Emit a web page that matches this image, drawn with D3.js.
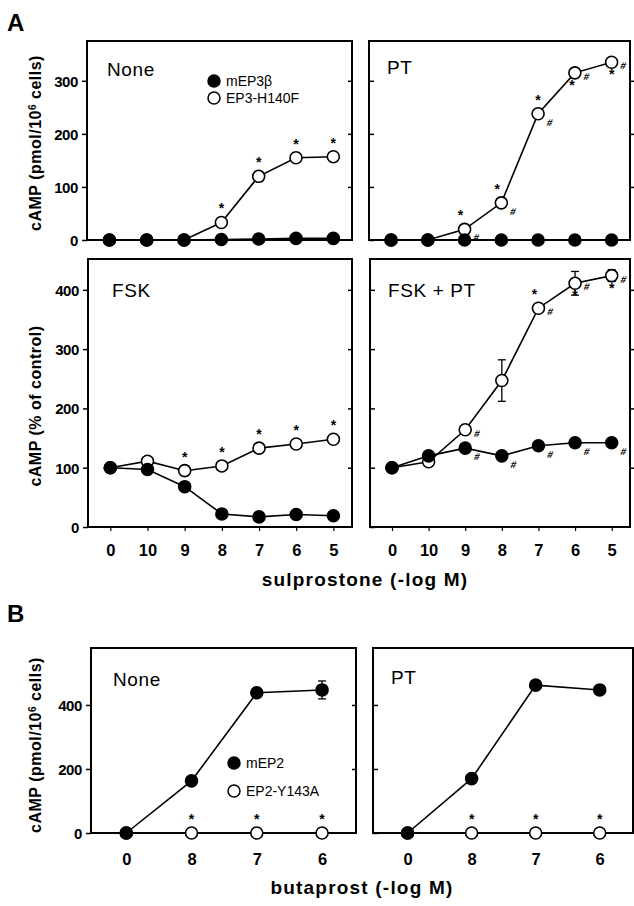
<!DOCTYPE html>
<html><head><meta charset="utf-8">
<script src="https://cdn.jsdelivr.net/npm/d3@7"></script>
<style>
html,body{margin:0;padding:0;background:#fff;}
svg{display:block;font-family:"Liberation Sans",Arial,sans-serif;}
</style></head>
<body>
<svg id="c" width="634" height="906"></svg>
<script>
// ---------- data ----------
const sulproTicks = ["0","10","9","8","7","6","5"];
const butaTicks = ["0","8","7","6"];
const yTicksA1 = [0,100,200,300];
const yTicksA2 = [0,100,200,300,400];
const yTicksB = [0,200,400];

// Panel A, cAMP (pmol/10^6 cells)
const noneEP3b   = [0,0,0,1,2,3,3];
const noneH140F  = [0,0,0,33,120,155,157];
const ptEP3b     = [0,0,0,0,0,0,0];
const ptH140F    = [0,0,20,70,238,315,335];
// Panel A, cAMP (% of control)
const fskEP3b    = [100,97,68,22,17,21,19];
const fskH140F   = [100,111,95,103,133,140,148];
const fskptEP3b  = [100,120,133,120,137,142,142];
const fskptH140F = [100,110,164,247,369,411,424];
const fskptH140FErr = [0,0,0,35,0,20,10];
// Panel B, cAMP (pmol/10^6 cells)
const bNoneEP2    = [0,163,438,447];
const bNoneEP2Err = [0,0,0,28];
const bNoneY143A  = [0,0,0,0];
const bPtEP2      = [0,170,462,447];
const bPtY143A    = [0,0,0,0];

// significance marks: a = * above, b = * below, l = * above-left, m = * below-left, h = # right-below, r = # right
const noneH140FMarks  = ["","","","a","a","a","a"];
const ptH140FMarks    = ["","","lh","lh","ah","mr","br"];
const fskH140FMarks   = ["","","a","a","a","a","a"];
const fskptH140FMarks = ["","","r","","lr","br","br"];
const fskptEP3bMarks  = ["","","h","h","h","h","h"];
const bY143AMarks     = ["","a","a","a"];

// ---------- drawing ----------
const svg = d3.select("#c");
const font = '"Liberation Sans",Arial,sans-serif';

function panel(cfg){
  const x = d3.scaleLinear().domain(cfg.xDom).range([cfg.x0,cfg.x1]);
  const y = d3.scaleLinear().domain([0,cfg.yMax]).range([cfg.y1,cfg.y0]);
  const g = svg.append("g");
  const leftAxis = d3.axisLeft(y).tickValues(cfg.yTicks).tickSize(cfg.leftIn ? -5 : 5).tickFormat(cfg.yLabels ? d3.format("d") : "");
  const la = g.append("g").attr("transform",`translate(${cfg.x0},0)`).call(leftAxis);
  la.select(".domain").remove();
  la.selectAll("line").attr("stroke","#000").attr("stroke-width",1.5);
  la.selectAll("text").attr("font-family",font).attr("font-weight","bold").attr("font-size",15)
    .attr("letter-spacing",-0.4).attr("fill","#000").attr("x",-9).attr("dy","0.36em");
  const rightAxis = d3.axisRight(y).tickValues(cfg.yTicks.filter(v=>v>0)).tickSize(cfg.rightOut?4:-4).tickFormat("");
  const ra = g.append("g").attr("transform",`translate(${cfg.x1},0)`).call(rightAxis);
  ra.select(".domain").remove();
  ra.selectAll("line").attr("stroke","#000").attr("stroke-width",1.5);
  if (cfg.xLabels){
    const xa = d3.axisBottom(x).tickValues(d3.range(cfg.xLabels.length)).tickSize(4).tickFormat((d,i)=>cfg.xLabels[i]);
    const xg = g.append("g").attr("transform",`translate(0,${cfg.y1})`).call(xa);
    xg.select(".domain").remove();
    xg.selectAll("line").attr("stroke","#000").attr("stroke-width",1.2);
    xg.selectAll("text").attr("font-family",font).attr("font-weight","bold").attr("font-size",16.5)
      .attr("fill","#000").attr("dy",null).attr("y",cfg.xLabelDy);
  }
  g.append("rect").attr("x",cfg.x0).attr("y",cfg.y0).attr("width",cfg.x1-cfg.x0).attr("height",cfg.y1-cfg.y0)
    .attr("fill","none").attr("stroke","#000").attr("stroke-width",2);
  g.append("text").attr("x",cfg.x0+cfg.titleDx).attr("y",cfg.y0+cfg.titleDy).text(cfg.title)
    .attr("font-family",font).attr("font-size",19).attr("letter-spacing",0.6).attr("fill","#000");

  const line = d3.line().x((d,i)=>x(i)).y(d=>y(d));
  cfg.series.forEach(s=>{
    g.append("path").attr("d",line(s.values)).attr("fill","none").attr("stroke","#000").attr("stroke-width",1.6);
  });
  cfg.series.forEach(s=>{
    if (s.err){
      s.values.forEach((v,i)=>{
        const e = s.err[i]; if(!e) return;
        const eg = g.append("g").attr("stroke","#000").attr("stroke-width",1.3);
        eg.append("line").attr("x1",x(i)).attr("x2",x(i)).attr("y1",y(v+e)).attr("y2",y(v-e));
        eg.append("line").attr("x1",x(i)-4).attr("x2",x(i)+4).attr("y1",y(v+e)).attr("y2",y(v+e));
        eg.append("line").attr("x1",x(i)-4).attr("x2",x(i)+4).attr("y1",y(v-e)).attr("y2",y(v-e));
      });
    }
    g.selectAll(null).data(s.values).enter().append("circle")
      .attr("cx",(d,i)=>x(i)).attr("cy",d=>y(d)).attr("r",6)
      .attr("fill",s.filled?"#000":"#fff").attr("stroke","#000").attr("stroke-width",1.6);
    if (s.marks){
      s.marks.forEach((m,i)=>{
        const cx = x(i), cy = y(s.values[i]);
        for (const c of m){
          let tx, ty, t;
          if (c==="a"){tx=cx;ty=cy-9;t="*";}
          else if (c==="b"){tx=cx;ty=cy+17;t="*";}
          else if (c==="l"){tx=cx-4;ty=cy-9;t="*";}
          else if (c==="m"){tx=cx-3;ty=cy+17;t="*";}
          else if (c==="h"){tx=cx+11;ty=cy+12;t="#";}
          else if (c==="r"){tx=cx+11;ty=cy+7;t="#";}
          const el = g.append("text").text(t).attr("text-anchor","middle")
            .attr("font-family",font).attr("font-weight","bold").attr("font-size",t==="*"?14:10)
            .attr("fill","#000");
          if (t==="#") el.attr("transform",`translate(${tx},${ty}) skewX(-12)`);
          else el.attr("x",tx).attr("y",ty);
        }
      });
    }
  });
  return {x,y,g};
}

const domA = [-0.6,6.5], domB = [-0.54,3.52];

panel({x0:87,x1:352,y0:41,y1:240,yMax:375,xDom:domA,yTicks:yTicksA1,yLabels:true,title:"None",titleDx:20,titleDy:35,
  series:[{values:noneH140F,filled:false,marks:noneH140FMarks},{values:noneEP3b,filled:true}]});
panel({x0:369,x1:630,y0:41,y1:240,yMax:375,xDom:domA,yTicks:yTicksA1,yLabels:false,leftIn:true,rightOut:true,title:"PT",titleDx:18,titleDy:33,
  series:[{values:ptH140F,filled:false,marks:ptH140FMarks},{values:ptEP3b,filled:true}]});
panel({x0:88,x1:352,y0:259,y1:527,yMax:452,xDom:domA,yTicks:yTicksA2,yLabels:true,title:"FSK",titleDx:24,titleDy:38,xLabels:sulproTicks,xLabelDy:29,
  series:[{values:fskH140F,filled:false,marks:fskH140FMarks},{values:fskEP3b,filled:true}]});
panel({x0:370,x1:630,y0:259,y1:527,yMax:452,xDom:domA,yTicks:yTicksA2,yLabels:false,leftIn:true,rightOut:true,title:"FSK + PT",titleDx:18,titleDy:38,xLabels:sulproTicks,xLabelDy:29,
  series:[{values:fskptH140F,filled:false,marks:fskptH140FMarks,err:fskptH140FErr},{values:fskptEP3b,filled:true,marks:fskptEP3bMarks}]});
panel({x0:91,x1:356,y0:648,y1:833,yMax:578,xDom:domB,yTicks:yTicksB,yLabels:true,title:"None",titleDx:22,titleDy:38,xLabels:butaTicks,xLabelDy:32,
  series:[{values:bNoneY143A,filled:false,marks:bY143AMarks},{values:bNoneEP2,filled:true,err:bNoneEP2Err}]});
panel({x0:373,x1:633,y0:648,y1:833,yMax:578,xDom:domB,yTicks:yTicksB,yLabels:false,leftIn:true,rightOut:true,title:"PT",titleDx:18,titleDy:36,xLabels:butaTicks,xLabelDy:32,
  series:[{values:bPtY143A,filled:false,marks:bY143AMarks},{values:bPtEP2,filled:true}]});

function legend(x0,y0,labels,gap){
  labels.forEach((l,i)=>{
    svg.append("circle").attr("cx",x0).attr("cy",y0+i*gap).attr("r",6)
      .attr("fill",i===0?"#000":"#fff").attr("stroke","#000").attr("stroke-width",1.5);
    svg.append("text").attr("x",x0+12).attr("y",y0+i*gap+5).text(l)
      .attr("font-family",font).attr("font-size",14).attr("fill","#000");
  });
}
legend(214,81,["mEP3β","EP3-H140F"],17);
legend(234,763,["mEP2","EP2-Y143A"],28);

svg.append("text").attr("x",7).attr("y",31).text("A").attr("font-family",font).attr("font-weight","bold").attr("font-size",24);
svg.append("text").attr("x",7).attr("y",622).text("B").attr("font-family",font).attr("font-weight","bold").attr("font-size",24);

function ylab(cx,cy,parts){
  const t = svg.append("text").attr("transform",`translate(${cx},${cy}) rotate(-90)`).attr("text-anchor","middle")
    .attr("font-family",font).attr("font-weight","bold").attr("font-size",16).attr("letter-spacing",0.5).attr("fill","#000");
  parts.forEach(p=>{
    const s = t.append("tspan").text(p.t);
    if (p.sup) s.attr("baseline-shift","super").attr("font-size",10);
  });
}
ylab(41,143,[{t:"cAMP (pmol/10"},{t:"6",sup:true},{t:" cells)"}]);
ylab(41,406,[{t:"cAMP (% of control)"}]);
ylab(41,745,[{t:"cAMP (pmol/10"},{t:"6",sup:true},{t:" cells)"}]);

svg.append("text").attr("x",365).attr("y",586).attr("text-anchor","middle").text("sulprostone (-log M)")
  .attr("font-family",font).attr("font-weight","bold").attr("font-size",19).attr("letter-spacing",1.2);
svg.append("text").attr("x",362).attr("y",894).attr("text-anchor","middle").text("butaprost (-log M)")
  .attr("font-family",font).attr("font-weight","bold").attr("font-size",19).attr("letter-spacing",1.2);
</script>
</body></html>
